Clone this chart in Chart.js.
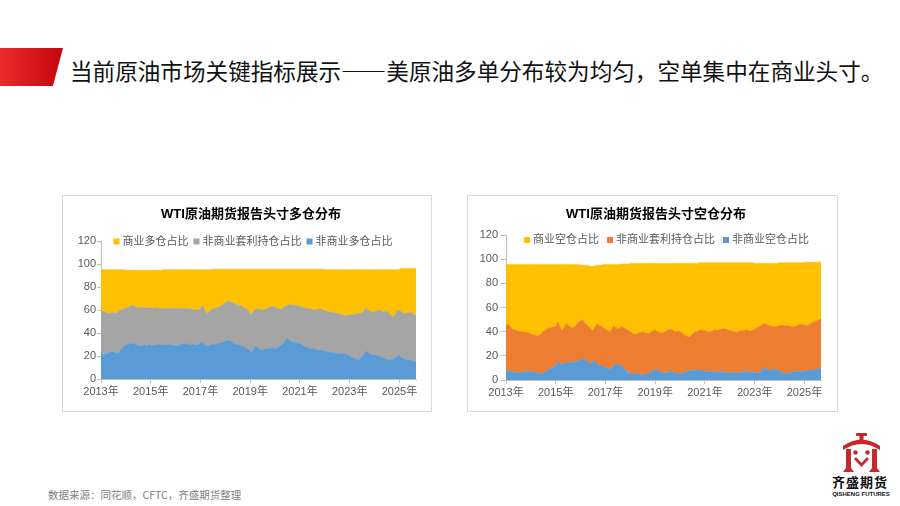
<!DOCTYPE html>
<html lang="zh-CN">
<head>
<meta charset="utf-8">
<title>WTI原油期货报告头寸分布</title>
<script src="https://cdn.jsdelivr.net/npm/chart.js@4.4.1/dist/chart.umd.min.js"></script>
<style>
  html, body { margin: 0; padding: 0; background: #fff; }
  .page { position: relative; width: 900px; height: 506px; overflow: hidden; font-family: "Noto Sans CJK SC", sans-serif; }
  .flag { position: absolute; left: 0; top: 48px; width: 63px; height: 38px;
          background: linear-gradient(90deg, #ec2a2e, #c4070d);
          clip-path: polygon(0 0, 100% 0, 84% 100%, 0 100%); }
  .headline { position: absolute; left: 70px; top: 59px; font-size: 22.6px; line-height: 24px; color: #111; white-space: nowrap; }
  .box { position: absolute; top: 195px; height: 217px; border: 1px solid #d9d9d9; box-sizing: border-box; background: #fff; }
  .box .inner { position: absolute; left: 0; top: 0; right: 0; bottom: 0; }
  .source { position: absolute; left: 48px; top: 488px; font-size: 10.5px; line-height: 14px; color: #7f7f7f; white-space: nowrap; }
  .logo { position: absolute; left: 830px; top: 428px; }
  .logo-cn { position: absolute; left: 831px; top: 474px; width: 58px; text-align: center; font-size: 13px; font-weight: bold; letter-spacing: 1px; line-height: 16px; color: #111; }
  .logo-en { position: absolute; left: 831px; top: 491px; width: 60px; text-align: center; font-family: "Liberation Sans", Arial, sans-serif; font-size: 6px; font-weight: bold; line-height: 7px; color: #111; white-space: nowrap; }
</style>
</head>
<body>
<div class="page">
  <div class="flag"></div>
  <div class="headline">当前原油市场关键指标展示——美原油多单分布较为均匀，空单集中在商业头寸。</div>

  <div class="box" style="left:62px; width:370px;"><div class="inner"><canvas id="longChart"></canvas></div></div>
  <div class="box" style="left:467px; width:371px;"><div class="inner"><canvas id="shortChart"></canvas></div></div>

  <div class="source">数据来源：同花顺，CFTC，齐盛期货整理</div>

  <svg class="logo" width="62" height="46" viewBox="0 0 62 46">
    <g fill="#c3282e">
      <rect x="26" y="5" width="11" height="3" rx="1"/>
      <rect x="29.5" y="7" width="4" height="6"/>
      <path d="M13 18 Q31.5 5 50 18 L50 22 Q31.5 10 13 22 Z"/>
      <path d="M16 21 h5 v19 l3 4 h-11 l3 -4 z"/>
      <path d="M42 21 h5 v19 l3 4 h-11 l3 -4 z"/>
      <circle cx="25.5" cy="24.5" r="2.2"/>
      <circle cx="37.5" cy="24.5" r="2.2"/>
    </g>
    <path d="M25 30 L31.5 37 L38 30" fill="none" stroke="#c3282e" stroke-width="2.6"/>
  </svg>
  <div class="logo-cn">齐盛期货</div>
  <div class="logo-en">QISHENG FUTURES</div>
</div>

<script>
// === DATA: monthly, 2013-01 .. 2025-09, share of open interest (%) ===
const months = [];
for (let y = 2013; y <= 2025; y++) {
    for (let m = 1; m <= 12; m++) {
        if (y === 2025 && m > 9) break;
        months.push(y + '-' + String(m).padStart(2, '0'));
    }
}

// long side
const longNonComm = [
    24, 21, 21.5, 22, 23, 24, 23.5, 23, 22, 24, 26.5, 28,
    29.5, 30, 30.5, 31, 31, 30, 29, 28.5, 29, 29.5, 29, 29.5,
    29.5, 29, 29.5, 30, 29.5, 29.5, 30, 29.5, 30, 30, 29.5, 29,
    29.5, 29, 29.5, 30.5, 31, 30.5, 30, 30, 30.5, 30, 29.5, 30,
    31.5, 32, 30, 29, 28.5, 30, 30.5, 30, 30.5, 31, 31.5, 32,
    33, 33, 33.5, 32.5, 31, 30, 30, 29.5, 28.5, 28, 27, 26,
    24, 23.5, 28, 28.5, 27, 25.5, 25, 26.5, 26, 27, 26.5, 27,
    26.5, 27, 28, 29.5, 31, 33.5, 35, 34, 32.5, 32, 31.5, 31,
    31, 30, 28.5, 28, 27.5, 26.5, 26, 26, 25.5, 25, 25, 24.5,
    24, 23.5, 23.5, 23, 23, 22.5, 22.5, 22, 22.5, 22, 21.5, 21,
    20, 18.5, 18, 17.5, 17, 17.5, 19.5, 22, 24.5, 23, 21.5, 21,
    21, 20.5, 20, 19.5, 18.5, 18, 17, 16.5, 16.5, 17, 18.5, 20,
    21, 19, 17.5, 17, 16.5, 16.5, 16, 15.5, 15
];
const longSpread = [
    36, 38, 37, 35.5, 34, 33.5, 34.5, 34, 36, 36, 34, 33,
    32, 32, 32.5, 33, 32.5, 32.5, 33, 33.5, 33.5, 32.5, 33, 32.5,
    32.5, 32.5, 32, 32, 32, 31.5, 31.5, 32, 31, 31.5, 32, 32,
    32, 32, 32, 31, 30, 31, 31, 31, 30, 30, 31, 30,
    29.5, 32, 30, 28, 29.5, 30, 30.5, 31.5, 31.5, 32, 32, 33,
    33, 34.5, 34.5, 34, 35, 35, 34, 34.5, 34.5, 34, 34, 34,
    32.5, 33.5, 32, 32.5, 33.5, 35.5, 35, 33.5, 35, 35, 36.5, 36,
    36, 34.5, 33, 31, 31, 30, 29, 30.5, 32, 32, 32.5, 32.5,
    32, 32.5, 33.5, 33.5, 33.5, 34.5, 34.5, 34, 34.5, 36, 36, 35.5,
    35.5, 35.5, 35, 35, 35, 35, 34.5, 34.5, 33.5, 33.5, 33.5, 34.5,
    35.5, 37.5, 38, 39, 40, 39.5, 38, 38, 37, 37, 37, 37,
    37.5, 38.5, 40, 40, 40, 40.5, 42, 41, 38.5, 37, 37.5, 40,
    38.5, 39.5, 39.5, 40, 41, 41.5, 41.5, 40.5, 40
];
const longComm = [
    35, 36, 36.5, 37.5, 38, 37.5, 37, 38, 37, 35, 34.5, 34,
    33, 32.5, 31.5, 30.5, 31, 32, 32.5, 32.5, 32, 32.5, 32.5, 32.5,
    32.5, 33, 33, 32.5, 33, 33.5, 33.5, 33.5, 34, 33.5, 33.5, 34,
    33.5, 34, 33.5, 33.5, 34, 33.5, 34, 34, 34.5, 35, 34.5, 35,
    34, 31, 35, 38, 37, 35, 34.5, 34, 33.5, 32.5, 32, 30.5,
    29.5, 28, 27.5, 29, 29.5, 30.5, 31.5, 31.5, 32.5, 33.5, 34.5, 35.5,
    39, 38.5, 35.5, 34.5, 35, 34.5, 35.5, 35.5, 34.5, 33.5, 32.5, 32.5,
    33, 34, 34.5, 35, 33.5, 32, 31.5, 31, 31, 31.5, 31.5, 32,
    32.5, 33, 33.5, 34, 34.5, 34.5, 35, 35.5, 35.5, 34.5, 34.5, 35.5,
    35.5, 36, 36.5, 37, 37, 37.5, 38, 38.5, 39, 39.5, 40, 39.5,
    39.5, 39, 39, 38.5, 38, 38, 37.5, 35, 33.5, 35, 36.5, 37,
    36.5, 36, 35, 35.5, 36.5, 36.5, 36, 37.5, 40, 41, 39, 35,
    36, 37.5, 39, 39, 38.5, 38, 38.5, 40, 41
];

// short side
const shortNonComm = [
    7, 8, 7.5, 7, 6.5, 6.5, 6, 6, 6.5, 7, 7, 7,
    6.5, 6.5, 7, 6, 5.5, 5, 5.5, 7, 8, 9, 10, 10.5,
    12, 14, 16, 12.5, 13, 15, 14.5, 14, 14.5, 15, 15.5, 16,
    16.5, 18, 17, 15.5, 14.5, 13.5, 15, 16, 13, 12, 11.5, 11,
    10.5, 9.5, 9, 10, 12, 13, 13.5, 12.5, 11, 10, 7.5, 6,
    5.5, 5.5, 5, 5, 5, 4.5, 4.5, 5, 5, 5.5, 6.5, 8.5,
    8.5, 8, 7, 6, 6.5, 6, 6.5, 7.5, 7, 6, 5.5, 5.5,
    5, 5.5, 6.5, 7, 7.5, 8, 7.5, 8, 8.5, 9, 8, 7.5,
    7, 7, 7.5, 7, 6.5, 6.5, 7, 7, 7, 6.5, 6, 6,
    6, 6.5, 6.5, 6, 6, 6, 6.5, 7, 7, 7, 6.5, 6.5,
    6.5, 6, 6, 6.5, 9.5, 10, 8.5, 8, 8, 9, 9.5, 8,
    7, 6.5, 5.5, 5, 5.5, 6, 6.5, 7, 7, 7, 7, 7,
    7, 7.5, 8, 8, 8, 8.5, 9, 9.5, 9.5
];
const shortSpread = [
    38, 38.5, 36.5, 35, 35, 34.5, 34.5, 34, 33.5, 32.5, 32.5, 32,
    31.5, 31, 30, 30.5, 31.5, 33.5, 34.5, 34, 34.5, 34, 33.5, 33.5,
    32, 34, 28, 28.5, 30, 31.5, 31, 30, 28.5, 29, 30.5, 32,
    32.5, 31.5, 30, 30, 29.5, 28.5, 26, 28, 33.5, 33, 33, 32,
    31.5, 31.5, 31, 32, 32.5, 30.5, 28.5, 31, 33, 33, 34.5, 35,
    34.5, 33, 32.5, 33, 34, 35, 35.5, 34, 33.5, 33, 33, 32.5,
    33, 32, 32.5, 33, 33, 34, 35, 34.5, 34.5, 34.5, 34.5, 35,
    35, 33.5, 31, 29.5, 28, 28, 30.5, 31.5, 31.5, 32, 33.5, 33.5,
    34, 33, 32, 33, 34.5, 35, 34, 34.5, 35, 36, 36, 35.5,
    35, 34, 33.5, 33.5, 34, 34.5, 34, 34, 34.5, 34, 34, 34.5,
    35.5, 37, 38, 38.5, 37, 36.5, 37, 37, 36.5, 35, 34.5, 36.5,
    38, 39, 39.5, 39.5, 39.5, 38.5, 37.5, 37, 37.5, 38.5, 39.5, 39,
    38.5, 37.5, 37.5, 38.5, 40, 40, 40, 40.5, 41
];
const shortComm = [
    50.5, 49, 51.5, 53.5, 54, 54.5, 55, 55.5, 55.5, 56, 56, 56.5,
    57.5, 58, 58.5, 59, 58.5, 57, 55.5, 54.5, 53, 52.5, 52, 51.5,
    51.5, 47.5, 51.5, 54.5, 52.5, 49, 50, 51.5, 52.5, 51.5, 49.5, 47.5,
    46, 45.5, 48, 49.5, 50.5, 52, 53, 50.5, 48.5, 50, 50.5, 52.5,
    53.5, 54.5, 55.5, 53.5, 51, 52, 53.5, 52, 52, 53, 54, 55,
    56.5, 58, 59, 58.5, 57.5, 57, 56.5, 57.5, 58, 58, 57, 55.5,
    55, 56.5, 57, 57.5, 57, 56.5, 55, 54.5, 55, 56, 56.5, 56,
    56.5, 57.5, 59, 60, 61, 60.5, 58.5, 57, 56.5, 56, 55.5, 56,
    56, 57, 57.5, 57, 56, 55.5, 56, 55.5, 55, 54.5, 55, 55.5,
    56, 56.5, 57, 57.5, 57, 56.5, 56.5, 56, 55.5, 56, 56.5, 56,
    54.5, 53.5, 52.5, 51.5, 50, 50, 51, 51.5, 52, 52.5, 52.5, 52,
    52, 51.5, 52, 52.5, 52, 52.5, 53, 53, 52.5, 51.5, 50.5, 51,
    52, 52.5, 52, 51, 49.5, 49, 48.5, 47.5, 47
];

const yTicks = { min: 0, max: 120, step: 20 };

const fontFamily = 'Arial, "Liberation Sans", "Noto Sans CJK SC", sans-serif';
Chart.defaults.font.family = fontFamily;
Chart.defaults.color = '#595959';

function area(label, data, color, fill) {
    return {
        label, data, fill,
        backgroundColor: color,
        borderColor: color,
        borderWidth: 0.6,
        pointRadius: 0,
        tension: 0
    };
}

// x ticks: only January of odd years
function yearTick(value) {
    const [y, m] = this.getLabelForValue(value).split('-');
    return (m === '01' && Number(y) % 2 === 1) ? y + '年' : null;
}

// title + legend drawn over the top of the plot, like the Excel original
const header = {
    id: 'header',
    afterDraw(chart, args, opts) {
        const ctx = chart.ctx;
        ctx.save();
        ctx.textBaseline = 'middle';

        ctx.font = 'bold 13px ' + fontFamily;
        ctx.fillStyle = '#000';
        ctx.textAlign = 'center';
        ctx.fillText(opts.title, opts.titleX, opts.titleY);

        const items = chart.data.datasets.map(d => ({ text: d.label, color: d.backgroundColor })).reverse();
        const box = 6, gap = 3;
        ctx.font = '11px ' + fontFamily;
        ctx.textAlign = 'left';
        const widths = items.map(it => box + gap + ctx.measureText(it.text).width);
        const total = widths.reduce((a, b) => a + b, 0) + opts.spacing * (items.length - 1);
        let x = opts.legendX - total / 2;
        items.forEach((it, i) => {
            ctx.fillStyle = it.color;
            ctx.fillRect(x, opts.legendY - box / 2, box, box);
            ctx.fillStyle = '#595959';
            ctx.fillText(it.text, x + box + gap, opts.legendY);
            x += widths[i] + opts.spacing;
        });
        ctx.restore();
    }
};

function buildChart(canvasId, cfg) {
    const ctx = document.getElementById(canvasId).getContext('2d');
    return new Chart(ctx, {
        type: 'line',
        data: { labels: months, datasets: cfg.datasets },
        options: {
            responsive: true,
            maintainAspectRatio: false,
            animation: false,
            layout: { padding: { left: 0, right: cfg.padRight, top: cfg.padTop, bottom: 0 } },
            scales: {
                x: {
                    offset: false,
                    grid: { drawOnChartArea: false, tickLength: 4, color: '#bfbfbf' },
                    border: { color: '#bfbfbf' },
                    ticks: { autoSkip: false, maxRotation: 0, padding: 2, font: { size: 11 }, callback: yearTick },
                    afterFit(s) { s.height = cfg.xHeight; }
                },
                y: {
                    stacked: true,
                    min: yTicks.min,
                    max: yTicks.max,
                    grid: { drawOnChartArea: false, tickLength: cfg.yTick, color: '#bfbfbf' },
                    border: { color: '#bfbfbf' },
                    ticks: { stepSize: yTicks.step, padding: cfg.yPad, font: { size: 11 } },
                    afterFit(s) { s.width = 38; }
                }
            },
            plugins: {
                legend: { display: false },
                title: { display: false },
                tooltip: { enabled: false },
                header: cfg.header
            }
        },
        plugins: [header]
    });
}

buildChart('longChart', {
    datasets: [
        area('非商业多仓占比', longNonComm, '#5b9bd5', 'origin'),
        area('非商业套利持仓占比', longSpread, '#a5a5a5', '-1'),
        area('商业多仓占比', longComm, '#ffc000', '-1')
    ],
    padRight: 15, padTop: 45, xHeight: 32, yTick: 4, yPad: 1,
    header: { title: 'WTI原油期货报告头寸多仓分布', titleX: 188, titleY: 18, legendX: 190, legendY: 45.5, spacing: 5 }
});

buildChart('shortChart', {
    datasets: [
        area('非商业空仓占比', shortNonComm, '#5b9bd5', 'origin'),
        area('非商业套利持仓占比', shortSpread, '#ed7d31', '-1'),
        area('商业空仓占比', shortComm, '#ffc000', '-1')
    ],
    padRight: 16, padTop: 39, xHeight: 31, yTick: 5, yPad: 3,
    header: { title: 'WTI原油期货报告头寸空仓分布', titleX: 188, titleY: 18, legendX: 198.5, legendY: 44, spacing: 8 }
});
</script>
</body>
</html>
